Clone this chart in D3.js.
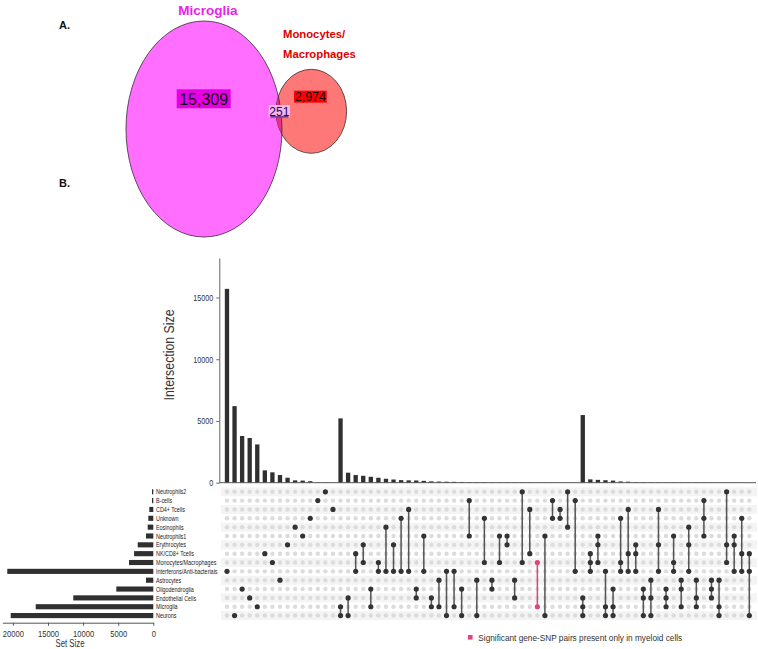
<!DOCTYPE html>
<html><head><meta charset="utf-8">
<script src="https://cdn.jsdelivr.net/npm/d3@7"></script>
<style>body{margin:0;background:#fff}svg{display:block}</style>
</head><body>
<script>
// ---------- DATA ----------
const vennSetNames = ["Microglia", "Monocytes/", "Macrophages"];
const vennCounts = [15309, 251, 2974]; // microglia only, overlap, mono only
const panelLabels = ["A.", "B."];

const sets = ["Neutrophils2","B-cells","CD4+ Tcells","Unknown","Eosinophils","Neutrophils1",
  "Erythrocytes","NK/CD8+ Tcells","Monocytes/Macrophages","Interferons/Anti-bacterials",
  "Astrocytes","Oligodendroglia","Endothelial Cells","Microglia","Neurons"];
const setSizes = [185,185,570,710,800,1040,2220,2735,3460,20800,1040,5270,11400,16750,20310];

// membership given as indices into `sets`
const intersectionMembers = [
  [9],[14],[11],[12],[13],[7],[8],[10],[6],[4],[5],[3],[1],[0],[2],
  [13,14],[12,14],[7,9],[6,8],[11,13],[8,9],[4,9],[6,9],[3,9],[2,9],[11,12],[5,9],[12,13],[10,13],
  [9,14],[9,13],[11,14],[1,5],[10,14],[3,8],[10,11],[5,8],[5,6],[10,12],[0,8],[2,7],[8,13],[5,14],
  [1,3],[2,3],[0,4],[1,9],
  [12,13,14],[7,8,9],[5,6,8],[9,13,14],[11,13,14],[3,8,9],[2,7,9],[6,7,9],[11,12,14],[10,12,14],
  [2,6,9],[11,12,13],[5,8,9],[10,11,13],[4,6,9],[10,12,13],[1,3,5],[10,11,12],[10,13,14],[0,6,8],
  [5,6,9],[3,7,9],[7,9,14]
];
const intersectionSizes = [
  15700,6200,3780,3620,3100,1000,840,620,400,190,170,120,20,15,10,
  5210,810,620,560,480,400,320,260,210,190,180,150,110,90,
  80,70,60,40,35,30,28,25,22,20,18,16,15,14,
  12,10,8,6,
  5480,270,230,200,170,100,80,40,35,30,
  28,25,22,20,18,16,14,12,10,8,
  6,5,4
];
const highlighted = [41];
const yTicks = [0, 5000, 10000, 15000];
const setSizeTicks = [0, 5000, 10000, 15000, 20000];
const yTitle = "Intersection Size";
const xTitle = "Set Size";
const legendLabel = "Significant gene-SNP pairs present only in myeloid cells";

// ---------- DRAW ----------
const W = 758, H = 649;
const svg = d3.select("body").append("svg").attr("width", W).attr("height", H);
const sans = "'Liberation Sans',Arial,Helvetica,sans-serif";
const dark = "#333";
const pink = "#e0457e";
function condense(sel, f) {
  sel.each(function () {
    const L = this.getComputedTextLength();
    d3.select(this).attr("textLength", L * f).attr("lengthAdjust", "spacingAndGlyphs");
  });
}

// ----- Venn (panel A) -----
const venn = svg.append("g");
venn.append("text").attr("x", 59).attr("y", 29).text(panelLabels[0])
  .attr("font-family", sans).attr("font-weight", "bold").attr("font-size", 11).attr("fill", "#111");
venn.append("text").attr("x", 59).attr("y", 187).text(panelLabels[1])
  .attr("font-family", sans).attr("font-weight", "bold").attr("font-size", 11).attr("fill", "#111");

const micro = {cx: 204, cy: 129, rx: 78, ry: 108};
const mono = {cx: 311.3, cy: 111.3, rx: 35.3, ry: 42};
const defs = svg.append("defs");
defs.append("clipPath").attr("id", "clipMono").append("ellipse")
  .attr("cx", mono.cx).attr("cy", mono.cy).attr("rx", mono.rx).attr("ry", mono.ry);

venn.append("ellipse").attr("cx", micro.cx).attr("cy", micro.cy).attr("rx", micro.rx).attr("ry", micro.ry)
  .attr("fill", "#ff6eff").attr("stroke", "#3a2a3a").attr("stroke-width", 0.8);
venn.append("ellipse").attr("cx", mono.cx).attr("cy", mono.cy).attr("rx", mono.rx).attr("ry", mono.ry)
  .attr("fill", "#ff7878").attr("stroke", "#3a2a2a").attr("stroke-width", 0.8);
venn.append("ellipse").attr("clip-path", "url(#clipMono)")
  .attr("cx", micro.cx).attr("cy", micro.cy).attr("rx", micro.rx).attr("ry", micro.ry)
  .attr("fill", "#ec2d86").attr("stroke", "#3a2a3a").attr("stroke-width", 0.8);

venn.append("text").attr("x", 208).attr("y", 15).attr("text-anchor", "middle").text(vennSetNames[0])
  .attr("font-family", sans).attr("font-weight", "bold").attr("font-size", 13.5).attr("fill", "#e81ee8");
venn.append("text").attr("x", 283).attr("y", 37.5).text(vennSetNames[1])
  .attr("font-family", sans).attr("font-weight", "bold").attr("font-size", 11.3).attr("fill", "#e00000");
venn.append("text").attr("x", 283).attr("y", 57.5).text(vennSetNames[2])
  .attr("font-family", sans).attr("font-weight", "bold").attr("font-size", 11.3).attr("fill", "#e00000");

const fmt = d3.format(",");
const vennBoxes = [
  {x: 176.7, y: 89.3, w: 54, h: 19, fill: "#e600e6", fs: 16, color: "#111", underline: false},
  {x: 268.7, y: 105, w: 21.3, h: 12.5, fill: "#f2b8ec", fs: 12, color: "#2a0060", underline: true},
  {x: 294, y: 90.7, w: 32.7, h: 12, fill: "#ff0000", fs: 12.5, color: "#111", underline: false}
];
vennBoxes.forEach((b, i) => {
  venn.append("rect").attr("x", b.x).attr("y", b.y).attr("width", b.w).attr("height", b.h).attr("fill", b.fill);
  venn.append("text").attr("x", b.x + b.w / 2).attr("y", b.y + b.h / 2).attr("dy", "0.36em")
    .attr("text-anchor", "middle").attr("font-family", sans).attr("font-size", b.fs).attr("fill", b.color)
    .text(fmt(vennCounts[i]));
  if (b.underline) venn.append("line").attr("x1", b.x + 1.5).attr("x2", b.x + b.w - 1.5)
    .attr("y1", b.y + b.h - 0.6).attr("y2", b.y + b.h - 0.6).attr("stroke", b.color).attr("stroke-width", 1.1);
});

// ----- UpSet (panel B) -----
const cols = d3.range(intersectionSizes.length);
const x = d3.scaleBand().domain(cols).range([223.2, 223.2 + 7.57 * cols.length])
  .paddingInner(0.43).paddingOuter(0.215);
const cx = i => x(i) + x.bandwidth() / 2;
const y = d3.scaleLinear().domain([0, 18200]).range([482.7, 258]);
const rowBand = d3.scaleBand().domain(sets).range([485.5, 485.5 + 9.09 * sets.length]).padding(0.42);
const cy = s => rowBand(s) + rowBand.bandwidth() / 2;
const xs = d3.scaleLinear().domain([0, 21500]).range([153.3, 153.3 - 21500 * 0.00702]);

// matrix stripes
const mat = svg.append("g");
sets.forEach((s, r) => {
  if (r % 2 === 0) mat.append("rect").attr("x", 221).attr("y", cy(s) - 4.5).attr("width", 536).attr("height", 9.09)
    .attr("fill", "#f4f4f4");
});
// background dots
cols.forEach(i => sets.forEach(s => {
  mat.append("circle").attr("cx", cx(i)).attr("cy", cy(s)).attr("r", 2.2).attr("fill", "#dcdcdc");
}));
// connectors and member dots
cols.forEach(i => {
  const m = intersectionMembers[i].map(k => sets[k]);
  const col = highlighted.includes(i) ? pink : dark;
  const ys = m.map(cy);
  if (m.length > 1) mat.append("line").attr("x1", cx(i)).attr("x2", cx(i))
    .attr("y1", d3.min(ys)).attr("y2", d3.max(ys)).attr("stroke", highlighted.includes(i) ? pink : "#555")
    .attr("stroke-width", 1.5);
  ys.forEach(yy => mat.append("circle").attr("cx", cx(i)).attr("cy", yy).attr("r", 2.6).attr("fill", col));
});

// intersection bars
const bars = svg.append("g");
bars.selectAll("rect").data(cols).join("rect")
  .attr("x", i => x(i)).attr("width", x.bandwidth())
  .attr("y", i => y(intersectionSizes[i])).attr("height", i => y(0) - y(intersectionSizes[i]))
  .attr("fill", "#303030");
bars.append("line").attr("x1", 219.3).attr("x2", 756).attr("y1", y(0)).attr("y2", y(0))
  .attr("stroke", "#555").attr("stroke-width", 1);

const yAxis = svg.append("g").attr("transform", "translate(219.3,0)")
  .call(d3.axisLeft(y).tickValues(yTicks).tickSize(3).tickSizeOuter(0).tickFormat(d3.format("d")));
yAxis.select(".domain").attr("stroke", "#666");
yAxis.selectAll(".tick line").attr("stroke", "#666");
yAxis.selectAll(".tick text").attr("font-family", sans).attr("font-size", 9).attr("fill", "#333")
  .call(condense, 0.8);
svg.append("text").attr("transform", "translate(174,355) rotate(-90)").attr("text-anchor", "middle")
  .attr("font-family", sans).attr("font-size", 14).attr("fill", "#333").text(yTitle).call(condense, 0.88);

// set size bars
const sb = svg.append("g");
sb.selectAll("rect").data(sets).join("rect")
  .attr("x", (s, k) => xs(setSizes[k])).attr("width", (s, k) => xs(0) - xs(setSizes[k]))
  .attr("y", s => rowBand(s)).attr("height", rowBand.bandwidth()).attr("fill", "#303030");
sb.selectAll("text").data(sets).join("text")
  .attr("x", 156).attr("y", s => cy(s)).attr("dy", "0.35em").text(s => s)
  .attr("font-family", sans).attr("font-size", 7.5).attr("fill", "#222").call(condense, 0.72);

const xAxis = svg.append("g").attr("transform", "translate(0,622.7)")
  .call(d3.axisBottom(xs).tickValues(setSizeTicks).tickSize(3).tickSizeOuter(0).tickFormat(d3.format("d")));
xAxis.select(".domain").attr("stroke", "#555");
xAxis.selectAll(".tick line").attr("stroke", "#555");
xAxis.selectAll(".tick text").attr("font-family", sans).attr("font-size", 9.5).attr("fill", "#333")
  .attr("dy", "0.9em").call(condense, 0.8);
svg.append("text").attr("x", 70).attr("y", 647).attr("text-anchor", "middle")
  .attr("font-family", sans).attr("font-size", 10).attr("fill", "#333").text(xTitle).call(condense, 0.78);

// legend
const lg = svg.append("g").attr("transform", "translate(468,637.3)");
lg.append("rect").attr("x", 0).attr("y", -2.3).attr("width", 4.6).attr("height", 4.6).attr("fill", pink);
lg.append("text").attr("x", 10.3).attr("y", 0).attr("dy", "0.35em").text(legendLabel)
  .attr("font-family", sans).attr("font-size", 9.6).attr("fill", "#333").call(condense, 0.86);
</script>
</body></html>
